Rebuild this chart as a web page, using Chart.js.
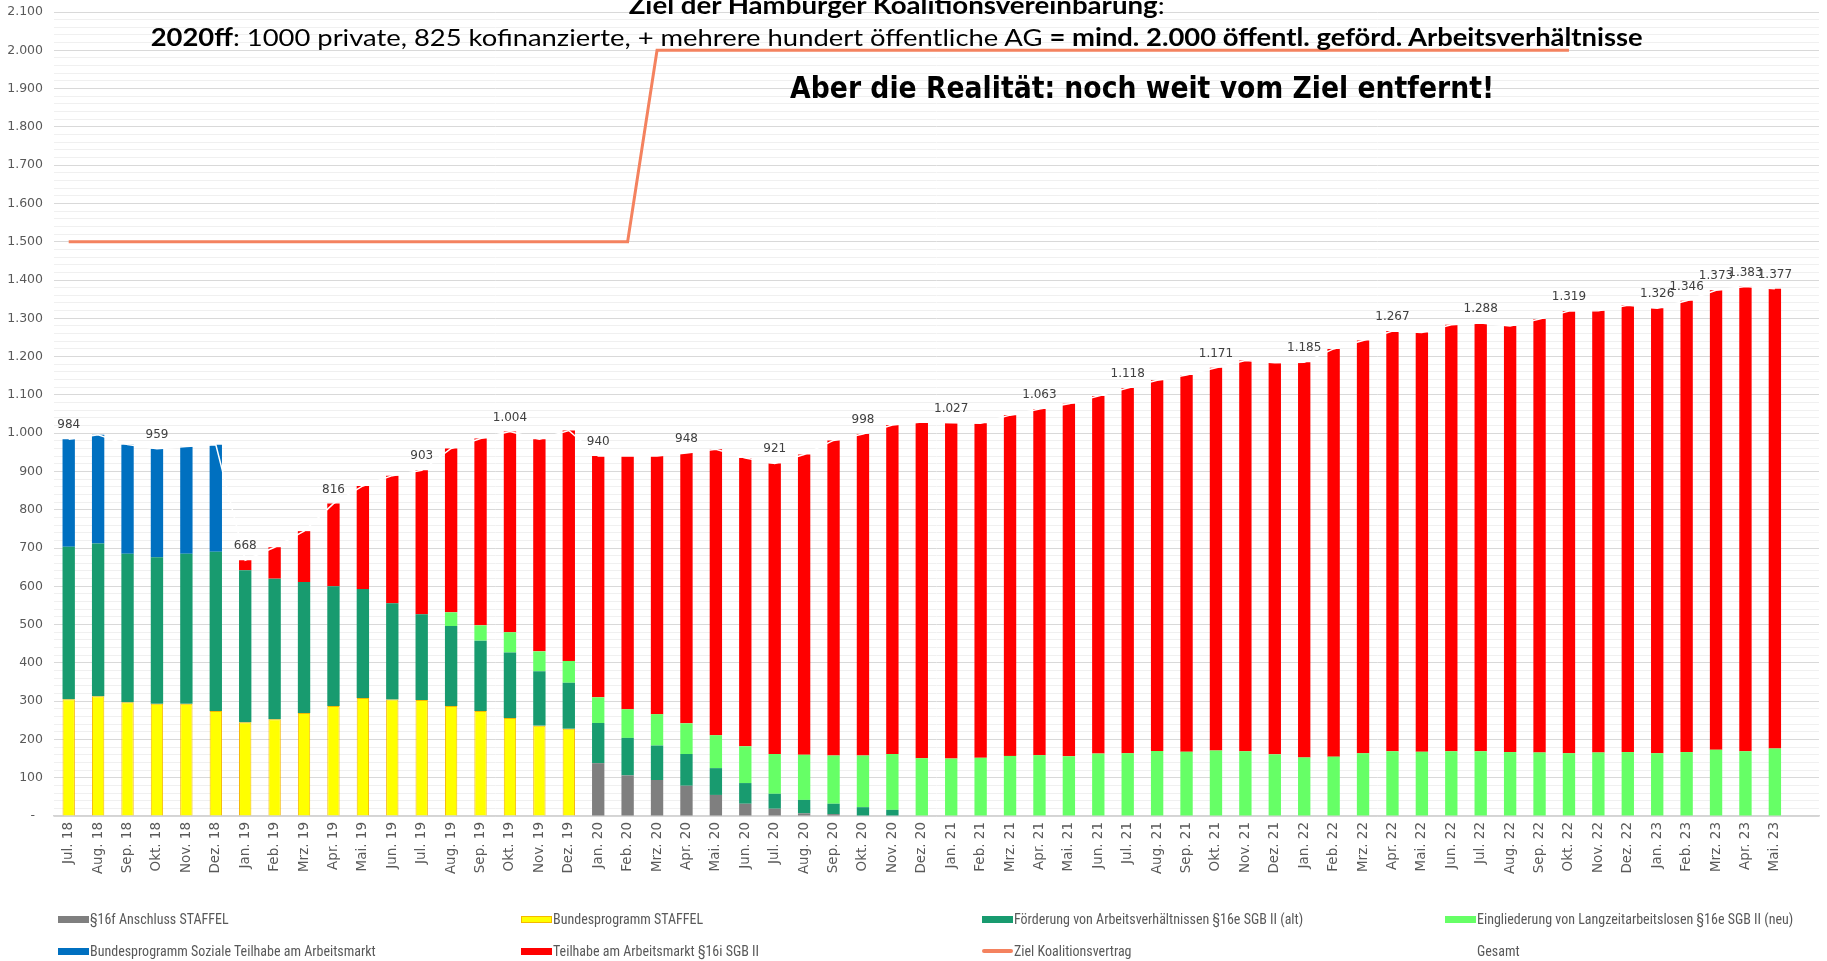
<!DOCTYPE html>
<html lang="de">
<head>
<meta charset="utf-8">
<title>Öffentlich geförderte Arbeitsverhältnisse Hamburg</title>
<script src="https://cdn.jsdelivr.net/npm/chart.js@4.4.0/dist/chart.umd.min.js"></script>
<style>
  html, body { margin: 0; padding: 0; background: #fff; overflow: hidden; }
  #wrap { position: relative; width: 1827px; height: 961px; }
  #chart { position: absolute; left: 0; top: 0; }
  .headline { position: absolute; width: 2000px; text-align: center; white-space: nowrap; line-height: 1; color: #000; }
  .headline span.fit { display: inline-block; transform-origin: 50% 50%; }
  .l12 { font-family: Lato, "Open Sans", sans-serif; font-size: 24px; }
  .l3 { font-family: "DejaVu Sans", Verdana, sans-serif; font-size: 31px; font-weight: bold; }
  b { font-weight: bold; }
  .leg { position: absolute; height: 20px; display: flex; align-items: center; white-space: nowrap;
         font-family: "Liberation Sans Narrow", "Roboto Condensed", Roboto, sans-serif; font-size: 14px; color: #595959; }
  .sw { width: 31px; height: 7px; margin-right: 1px; box-sizing: border-box; }
</style>
</head>
<body>
<div id="wrap">
  <canvas id="chart" width="1827" height="961"></canvas>
  <div class="headline l12" style="left:-103px; top:-7px;"><span class="fit"><b>Ziel der Hamburger Koalitionsvereinbarung</b>:</span></div>
  <div class="headline l12" style="left:-103px; top:25px;"><span class="fit"><b>2020ff</b>: 1000 private, 825 kofinanzierte, + mehrere hundert öffentliche AG <b>= mind. 2.000 öffentl. geförd. Arbeitsverhältnisse</b></span></div>
  <div class="headline l3" style="left:142px; top:72px;"><span class="fit">Aber die Realität: noch weit vom Ziel entfernt!</span></div>
  <div id="legend"></div>
</div>
<script>
// Monate (letzte Kategorie bleibt leer wie im Original)
const monate = [
  'Jul. 18', 'Aug. 18', 'Sep. 18', 'Okt. 18', 'Nov. 18', 'Dez. 18',
  'Jan. 19', 'Feb. 19', 'Mrz. 19', 'Apr. 19', 'Mai. 19', 'Jun. 19', 'Jul. 19', 'Aug. 19', 'Sep. 19', 'Okt. 19', 'Nov. 19', 'Dez. 19',
  'Jan. 20', 'Feb. 20', 'Mrz. 20', 'Apr. 20', 'Mai. 20', 'Jun. 20', 'Jul. 20', 'Aug. 20', 'Sep. 20', 'Okt. 20', 'Nov. 20', 'Dez. 20',
  'Jan. 21', 'Feb. 21', 'Mrz. 21', 'Apr. 21', 'Mai. 21', 'Jun. 21', 'Jul. 21', 'Aug. 21', 'Sep. 21', 'Okt. 21', 'Nov. 21', 'Dez. 21',
  'Jan. 22', 'Feb. 22', 'Mrz. 22', 'Apr. 22', 'Mai. 22', 'Jun. 22', 'Jul. 22', 'Aug. 22', 'Sep. 22', 'Okt. 22', 'Nov. 22', 'Dez. 22',
  'Jan. 23', 'Feb. 23', 'Mrz. 23', 'Apr. 23', 'Mai. 23', ''
];

const anschlussStaffel = [
  null, null, null, null, null, null,
  null, null, null, null, null, null, null, null, null, null, null, null,
  138, 106, 94, 79, 55, 32, 19, 7, 5, null, null, null,
  null, null, null, null, null, null, null, null, null, null, null, null,
  null, null, null, null, null, null, null, null, null, null, null, null,
  null, null, null, null, null
];

const bundesStaffel = [
  305, 313, 297, 293, 293, 274,
  245, 253, 269, 287, 308, 304, 303, 287, 274, 256, 236, 228
];

const foerderungAlt = [
  398, 399, 388, 383, 392, 416,
  397, 367, 342, 313, 285, 252, 224, 209, 184, 171, 142, 120,
  105, 98, 90, 83, 70, 54, 39, 35, 27, 23, 16
];

const eingliederungNeu = [
  null, null, null, null, null, null,
  null, null, null, null, null, null, null, 36, 40, 53, 52, 57,
  67, 75, 82, 80, 86, 96, 104, 118, 126, 135, 146, 151,
  150, 152, 157, 159, 156, 163, 164, 170, 168, 171, 169, 161,
  153, 155, 164, 169, 168, 169, 169, 167, 166, 164, 166, 167,
  164, 167, 173, 169, 176
];

const sozialeTeilhabe = [281, 284, 285, 283, 280, 280];

const teilhabe16i = [
  null, null, null, null, null, null,
  26, 82, 133, 216, 269, 333, 376, 428, 488, 524, 554, 602,
  630, 662, 674, 706, 747, 753, 759, 784, 823, 840, 859, 878,
  877, 874, 890, 904, 921, 934, 954, 968, 984, 1000, 1021, 1023,
  1032, 1065, 1078, 1098, 1095, 1114, 1119, 1113, 1132, 1155, 1154, 1167,
  1162, 1179, 1200, 1214, 1201
];

const zielKoalition = [
  1500, 1500, 1500, 1500, 1500, 1500,
  1500, 1500, 1500, 1500, 1500, 1500, 1500, 1500, 1500, 1500, 1500, 1500,
  1500, 1500, 2000, 2000, 2000, 2000, 2000, 2000, 2000, 2000, 2000, 2000,
  2000, 2000, 2000, 2000, 2000, 2000, 2000, 2000, 2000, 2000, 2000, 2000,
  2000, 2000, 2000, 2000, 2000, 2000, 2000, 2000, 2000, 2000
];

const gesamt = [
  984, 996, 970, 959, 965, 970,
  668, 702, 744, 816, 862, 889, 903, 960, 986, 1004, 984, 1007,
  940, 941, 940, 948, 958, 935, 921, 944, 981, 998, 1021, 1029,
  1027, 1026, 1047, 1063, 1077, 1097, 1118, 1138, 1152, 1171, 1190, 1184,
  1185, 1220, 1242, 1267, 1263, 1283, 1288, 1280, 1298, 1319, 1320, 1334,
  1326, 1346, 1373, 1383, 1377
];

// Monate, deren Gesamtwert beschriftet ist
const gesamtBeschriftet = [0, 3, 6, 9, 12, 15, 18, 21, 24, 27, 30, 33, 36, 39, 42, 45, 48, 51, 54, 55, 56, 57, 58];

const yTicksMax = 2100;
const yTicksStep = 20;

const grau = '#595959';

function fmt(v) {
  return String(v).replace(/\B(?=(\d{3})+(?!\d))/g, '.');
}

const gesamtLabels = {
  id: 'gesamtLabels',
  afterDatasetsDraw(chart) {
    const i = chart.data.datasets.findIndex(d => d.label === 'Gesamt');
    const meta = chart.getDatasetMeta(i);
    const ctx = chart.ctx;
    ctx.save();
    ctx.font = '12px "DejaVu Sans"';
    ctx.fillStyle = '#404040';
    ctx.textAlign = 'center';
    ctx.textBaseline = 'alphabetic';
    gesamtBeschriftet.forEach(k => {
      const pt = meta.data[k];
      ctx.fillText(fmt(gesamt[k]), pt.x, pt.y - 11);
    });
    ctx.restore();
  }
};

function bar(label, data, color, border) {
  return {
    type: 'bar',
    label: label,
    data: data,
    backgroundColor: color,
    borderColor: border || color,
    borderWidth: border ? 1 : 0,
    stack: 'ag',
    order: 1,
    categoryPercentage: 1,
    barPercentage: 0.42
  };
}

const chart = new Chart(document.getElementById('chart'), {
  data: {
    labels: monate,
    datasets: [
      bar('§16f Anschluss STAFFEL', anschlussStaffel, '#7F7F7F'),
      bar('Bundesprogramm STAFFEL', bundesStaffel, '#FFFF00', '#F5B800'),
      bar('Förderung von Arbeitsverhältnissen §16e SGB II (alt)', foerderungAlt, '#189B6F'),
      bar('Eingliederung von Langzeitarbeitslosen §16e SGB II (neu)', eingliederungNeu, '#66FF66'),
      bar('Bundesprogramm Soziale Teilhabe am Arbeitsmarkt', sozialeTeilhabe, '#0070C0'),
      bar('Teilhabe am Arbeitsmarkt §16i SGB II', teilhabe16i, '#FF0000'),
      {
        type: 'line',
        label: 'Ziel Koalitionsvertrag',
        data: zielKoalition,
        borderColor: '#F4825F',
        backgroundColor: '#F4825F',
        borderWidth: 3,
        pointRadius: 0,
        tension: 0,
        stack: 'ziel',
        order: 0
      },
      {
        type: 'line',
        label: 'Gesamt',
        data: gesamt,
        borderColor: '#FFFFFF',
        backgroundColor: '#FFFFFF',
        borderWidth: 1.5,
        pointRadius: 0,
        tension: 0,
        stack: 'gesamt',
        order: 0
      }
    ]
  },
  options: {
    responsive: false,
    devicePixelRatio: 1,
    animation: false,
    layout: { padding: { top: 12, right: 8, bottom: 0, left: 0 } },
    plugins: {
      legend: { display: false },
      tooltip: { enabled: false }
    },
    scales: {
      x: {
        stacked: true,
        grid: { display: false, drawTicks: false },
        border: { display: true, color: '#d4d4d4', width: 1.5 },
        ticks: {
          autoSkip: false,
          maxRotation: 90,
          minRotation: 90,
          padding: 6,
          color: grau,
          font: { family: 'DejaVu Sans', size: 13.5 }
        },
        afterFit(scale) { scale.height = 145; }
      },
      y: {
        stacked: true,
        min: 0,
        max: yTicksMax,
        border: { display: false },
        grid: {
          drawTicks: false,
          color: c => (c.tick && c.tick.value % 100 === 0) ? '#d9d9d9' : '#f0f0f0',
          lineWidth: 1
        },
        ticks: {
          stepSize: yTicksStep,
          maxTicksLimit: 200,
          autoSkip: false,
          padding: 11,
          color: grau,
          font: { family: 'DejaVu Sans', size: 12.5 },
          callback: v => v % 100 !== 0 ? '' : (v === 0 ? '-  ' : fmt(v))
        },
        afterFit(scale) {
          scale.width = 54;
          scale.paddingTop = 0;
          scale.paddingBottom = 0;
        }
      }
    }
  },
  plugins: [gesamtLabels]
});

function buildLegend(ch) {
  const box = document.getElementById('legend');
  const cols = [58, 521, 982, 1445];
  const rows = [909, 941];
  ch.data.datasets.forEach((ds, i) => {
    const item = document.createElement('div');
    item.className = 'leg';
    item.style.left = cols[i % 4] + 'px';
    item.style.top = rows[Math.floor(i / 4)] + 'px';
    const sw = document.createElement('div');
    sw.className = 'sw';
    if (ds.type === 'line') {
      sw.style.height = '4px';
      sw.style.borderRadius = '2px';
      sw.style.background = ds.borderColor;
    } else {
      sw.style.background = ds.backgroundColor;
      if (ds.borderWidth) sw.style.border = '1px solid ' + ds.borderColor;
    }
    const txt = document.createElement('span');
    txt.textContent = ds.label;
    item.appendChild(sw);
    item.appendChild(txt);
    box.appendChild(item);
  });
}
buildLegend(chart);

// Überschriften auf die Breite im Original bringen
function fitHeadlines() {
  const widths = [536, 1492, 704];
  document.querySelectorAll('.headline span.fit').forEach((el, i) => {
    const w = el.getBoundingClientRect().width;
    el.style.transform = 'scaleX(' + (widths[i] / w) + ')';
  });
}
if (document.fonts && document.fonts.ready) {
  document.fonts.ready.then(fitHeadlines);
} else {
  fitHeadlines();
}
</script>
</body>
</html>
